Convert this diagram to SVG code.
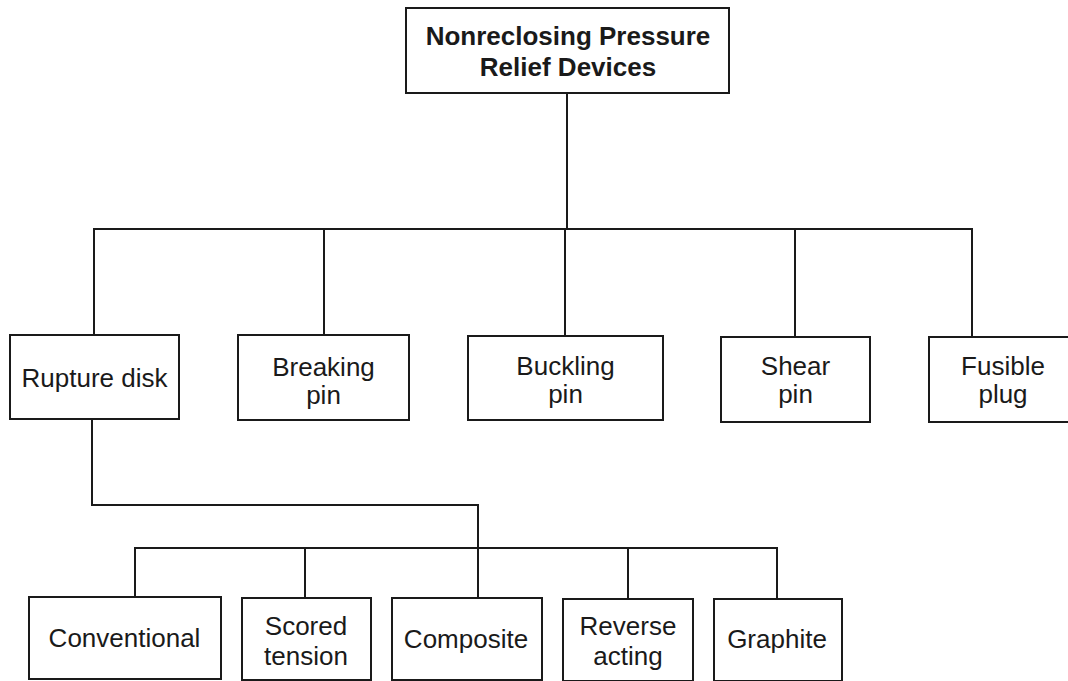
<svg xmlns="http://www.w3.org/2000/svg" width="1068" height="681" viewBox="0 0 1068 681">
<style>
.box{fill:#fff;stroke:#1a1a1a;stroke-width:2}
.ln{fill:none;stroke:#1a1a1a;stroke-width:2}
text{font-family:"Liberation Sans",Arial,sans-serif;font-size:26px;fill:#1a1a1a;text-anchor:middle}
.b{font-weight:bold}
</style>
<rect width="1068" height="681" fill="#fff"/>
<g id="connectors">
<path class="ln" d="M567,93 V229 M94,335 V229 H972 V337 M324,229 V335 M565,229 V336 M795,229 V337"/>
<path class="ln" d="M92,419 V505 H478 V598"/>
<path class="ln" d="M135,597 V548 H777 V599 M305,548 V598 M628,548 V599"/>
</g>
<g id="root"><rect class="box" x="406" y="8" width="323" height="85"/><text class="b" x="568" y="45">Nonreclosing Pressure</text><text class="b" x="568" y="76">Relief Devices</text></g>
<g id="rupture"><rect class="box" x="10" y="335" width="169" height="84"/><text x="94.5" y="387">Rupture disk</text></g>
<g id="breaking"><rect class="box" x="238" y="335" width="171" height="85"/><text x="323.5" y="376">Breaking</text><text x="323.5" y="404">pin</text></g>
<g id="buckling"><rect class="box" x="468" y="336" width="195" height="84"/><text x="565.5" y="375">Buckling</text><text x="565.5" y="403">pin</text></g>
<g id="shear"><rect class="box" x="721" y="337" width="149" height="85"/><text x="795.5" y="375">Shear</text><text x="795.5" y="403">pin</text></g>
<g id="fusible"><rect class="box" x="929" y="337" width="150" height="85"/><text x="1003" y="375">Fusible</text><text x="1003" y="403">plug</text></g>
<g id="conventional"><rect class="box" x="29" y="597" width="192" height="82"/><text x="124.5" y="647">Conventional</text></g>
<g id="scored"><rect class="box" x="242" y="598" width="129" height="82"/><text x="306" y="635">Scored</text><text x="306" y="665">tension</text></g>
<g id="composite"><rect class="box" x="392" y="598" width="150" height="82"/><text x="466" y="648">Composite</text></g>
<g id="reverse"><rect class="box" x="563" y="599" width="130" height="82"/><text x="628" y="635">Reverse</text><text x="628" y="665">acting</text></g>
<g id="graphite"><rect class="box" x="714" y="599" width="128" height="82"/><text x="777" y="648">Graphite</text></g>
</svg>
